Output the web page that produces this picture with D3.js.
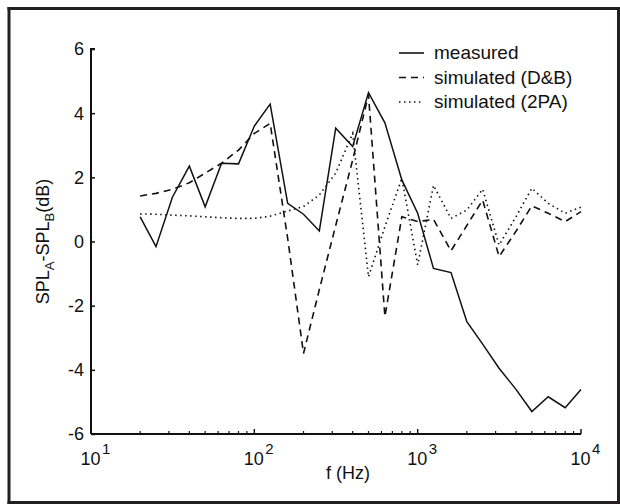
<!DOCTYPE html>
<html>
<head>
<meta charset="utf-8">
<script src="https://cdn.jsdelivr.net/npm/d3@7"></script>
<style>
  body { margin: 0; background: #fff; }
  svg { display: block; font-family: "Liberation Sans", Arial, Helvetica, sans-serif; }
</style>
</head>
<body>
<div id="chart"></div>
<script>
// 1/3-octave band centre frequencies (Hz)
const freqs = [20, 25, 31.5, 40, 50, 63, 80, 100, 125, 160, 200, 250, 315, 400, 500,
               630, 800, 1000, 1250, 1600, 2000, 2500, 3150, 4000, 5000, 6300, 8000, 10000];

const measured = [0.77, -0.16, 1.38, 2.35, 1.08, 2.44, 2.42, 3.60, 4.28, 1.19, 0.85, 0.33, 3.53, 2.96, 4.64,
                  3.70, 1.92, 0.88, -0.84, -0.97, -2.50, -3.20, -3.95, -4.61, -5.30, -4.84, -5.18, -4.61];

const simDB = [1.42, 1.50, 1.63, 1.83, 2.13, 2.44, 2.85, 3.37, 3.68, 0.10, -3.49, -1.50, 0.50, 2.54, 4.57,
               -2.34, 0.77, 0.62, 0.69, -0.29, 0.50, 1.29, -0.47, 0.32, 1.11, 0.88, 0.62, 0.93];

const sim2PA = [0.86, 0.85, 0.82, 0.80, 0.77, 0.74, 0.72, 0.72, 0.79, 0.95, 1.09, 1.45, 2.13, 3.37, -1.10,
                0.46, 1.97, -0.73, 1.75, 0.72, 0.98, 1.63, -0.11, 0.77, 1.66, 1.19, 0.88, 1.07];

const yTicks = [-6, -4, -2, 0, 2, 4, 6];
const xTickExp = [1, 2, 3, 4];

const legendItems = [
    { name: "measured", values: measured, dash: null },
    { name: "simulated (D&B)", values: simDB, dash: "7,5" },
    { name: "simulated (2PA)", values: sim2PA, dash: "1.5,3.5" }
];

// y title pieces: text, size, baseline shift
const yTitleParts = [["SPL", 18, 0], ["A", 13, 5], ["-SPL", 18, 0], ["B", 13, 5], ["(dB)", 18, 0]];

const width = 620, height = 504;
const margin = { left: 91, right: 39, top: 49, bottom: 70 };
const innerWidth = width - margin.left - margin.right,
      innerHeight = height - margin.top - margin.bottom;
const ink = "#111";

const svg = d3.select("#chart").append("svg")
    .attr("width", width)
    .attr("height", height);

// outer frame, drawn as four separate sides
const frame = [[9, 7, 9, 504], [7.5, 8.5, 620, 8.5], [618.5, 7, 618.5, 504], [7.5, 502.5, 620, 502.5]];
svg.selectAll(".frame")
    .data(frame)
    .enter().append("line")
    .attr("x1", d => d[0]).attr("y1", d => d[1])
    .attr("x2", d => d[2]).attr("y2", d => d[3])
    .attr("stroke", "#231f20")
    .attr("stroke-width", 3);

const g = svg.append("g")
    .attr("transform", "translate(" + margin.left + "," + margin.top + ")");

const xScale = d3.scaleLog().domain([10, 10000]).range([0, innerWidth]);
const yScale = d3.scaleLinear().domain([-6, 6]).range([innerHeight, 0]);

// y axis (ticks pointing inward)
const yAxis = g.append("g")
    .call(d3.axisRight(yScale).tickValues(yTicks).tickSize(4).tickFormat(""));
yAxis.select(".domain").attr("d", "M0," + innerHeight + "V0h4");
yAxis.selectAll("line").attr("stroke", ink).attr("stroke-width", 1.5);
yAxis.select(".domain").attr("stroke", ink).attr("stroke-width", 2).attr("fill", "none");

g.selectAll(".ylab")
    .data(yTicks)
    .enter().append("text")
    .attr("class", "ylab")
    .attr("x", -7)
    .attr("y", d => yScale(d))
    .attr("dy", "0.36em")
    .attr("text-anchor", "end")
    .attr("font-size", 18)
    .attr("fill", ink)
    .text(d => d);

// x axis: major and minor log ticks pointing inward
const minor = [];
[10, 100, 1000].forEach(dec => {
    for (let k = 2; k <= 9; k++) minor.push(dec * k);
});
const xAxisG = g.append("g").attr("transform", "translate(0," + innerHeight + ")");
xAxisG.append("line")
    .attr("x1", 0).attr("x2", innerWidth)
    .attr("stroke", ink).attr("stroke-width", 2);
xAxisG.selectAll(".major")
    .data(xTickExp)
    .enter().append("line")
    .attr("x1", d => xScale(Math.pow(10, d))).attr("x2", d => xScale(Math.pow(10, d)))
    .attr("y1", 0).attr("y2", -5)
    .attr("stroke", ink).attr("stroke-width", 1.5);
xAxisG.selectAll(".minor")
    .data(minor)
    .enter().append("line")
    .attr("x1", d => xScale(d)).attr("x2", d => xScale(d))
    .attr("y1", 0).attr("y2", -3)
    .attr("stroke", ink).attr("stroke-width", 1.2);

// "10" and its exponent as separate texts
xAxisG.selectAll(".xbase")
    .data(xTickExp)
    .enter().append("text")
    .attr("x", d => xScale(Math.pow(10, d)) + 9.5)
    .attr("y", 31)
    .attr("text-anchor", "end")
    .attr("font-size", 18)
    .attr("fill", ink)
    .text("10");
xAxisG.selectAll(".xexp")
    .data(xTickExp)
    .enter().append("text")
    .attr("x", d => xScale(Math.pow(10, d)) + 11)
    .attr("y", 19.5)
    .attr("font-size", 15)
    .attr("fill", ink)
    .text(d => d);

// axis titles
g.append("text")
    .attr("x", 257)
    .attr("y", innerHeight + 45)
    .attr("text-anchor", "middle")
    .attr("font-size", 18)
    .attr("fill", ink)
    .text("f (Hz)");

const yTitle = svg.append("g")
    .attr("transform", "translate(49," + (margin.top + innerHeight / 2) + ") rotate(-90)");
let cursor = 0;
const pieces = yTitleParts.map(p => {
    const t = yTitle.append("text")
        .attr("y", p[2])
        .attr("font-size", p[1])
        .attr("fill", ink)
        .text(p[0]);
    const w = t.node().getComputedTextLength();
    t.attr("x", cursor);
    cursor += w;
    return t;
});
pieces.forEach(t => t.attr("x", +t.attr("x") - cursor / 2));

// series
const line = d3.line()
    .x((d, i) => xScale(freqs[i]))
    .y(d => yScale(d));

legendItems.forEach(s => {
    g.append("path")
        .attr("d", line(s.values))
        .attr("fill", "none")
        .attr("stroke", ink)
        .attr("stroke-width", s.dash ? 1.6 : 1.5)
        .attr("stroke-dasharray", s.dash)
        .attr("stroke-linejoin", "miter");
});

// legend
const legend = svg.append("g").attr("transform", "translate(399,53)");
legendItems.forEach((s, i) => {
    const row = legend.append("g").attr("transform", "translate(0," + (i * 24.5) + ")");
    row.append("line")
        .attr("x1", 0).attr("x2", 25)
        .attr("stroke", ink)
        .attr("stroke-width", 1.6)
        .attr("stroke-dasharray", s.dash);
    row.append("text")
        .attr("x", 35)
        .attr("y", 0)
        .attr("dy", "0.33em")
        .attr("font-size", 19)
        .attr("fill", ink)
        .text(s.name);
});
</script>
</body>
</html>
